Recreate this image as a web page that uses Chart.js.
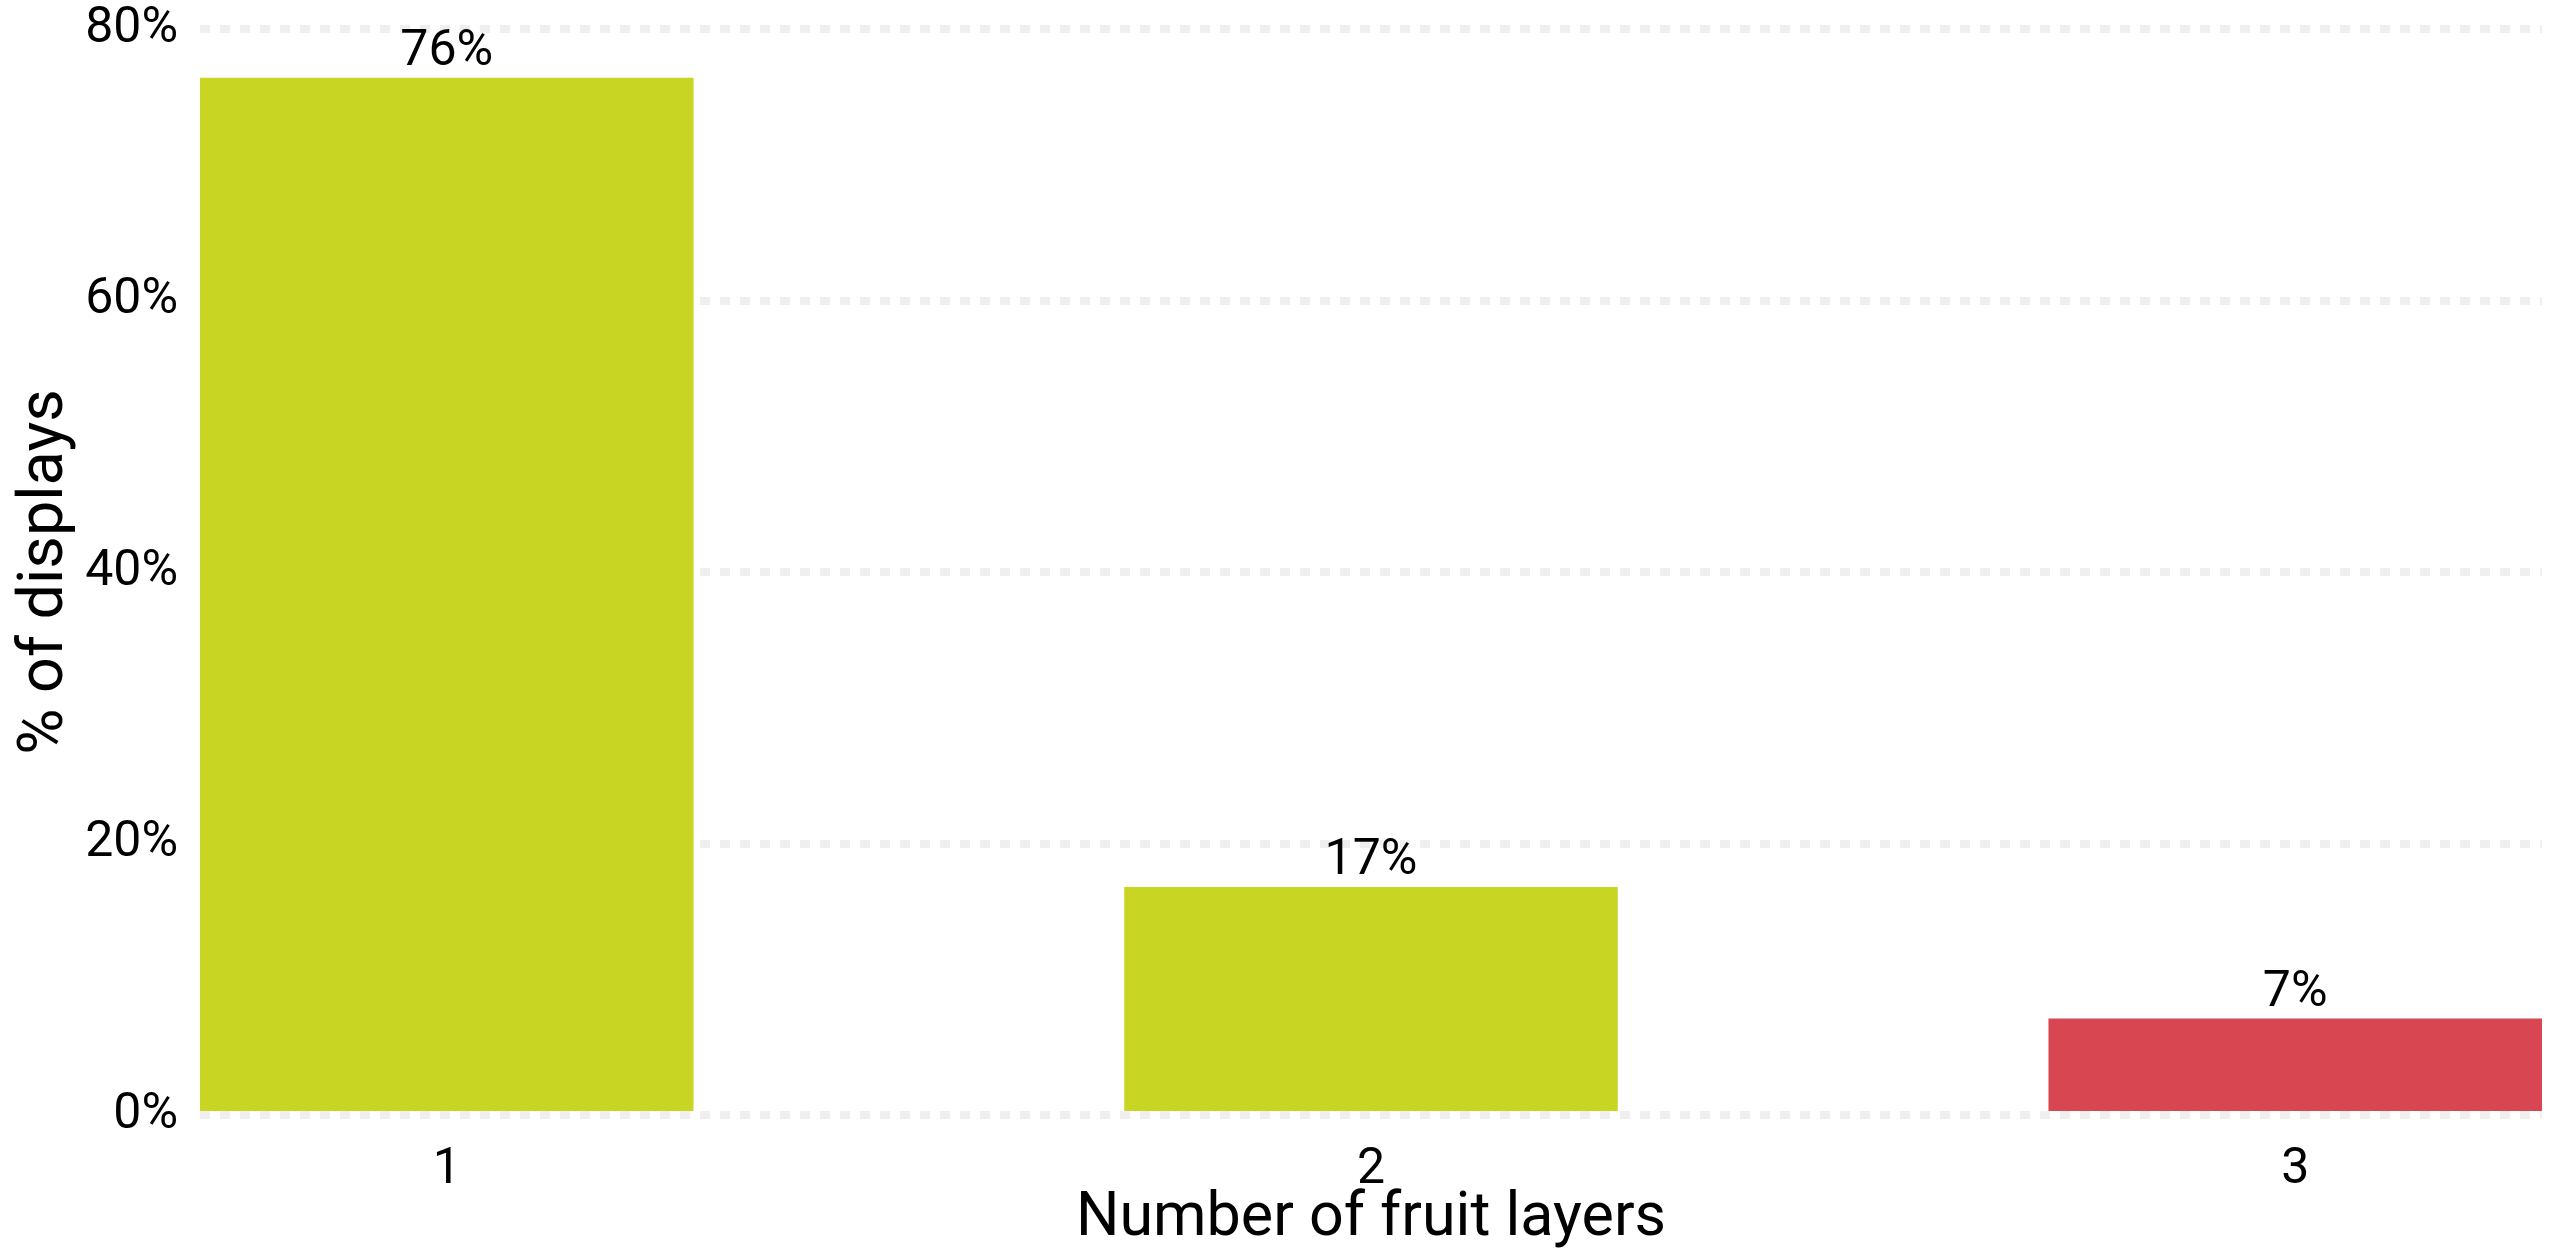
<!DOCTYPE html>
<html lang="en">
<head>
  <meta charset="UTF-8">
  <title>Fruit layers</title>
  <style>
    html, body { margin: 0; padding: 0; background: #fff; }
    #wrap { width: 2552px; height: 1256px; }
  </style>
</head>
<body>
  <div id="wrap"><canvas id="chart" width="2552" height="1256"></canvas></div>
  <script src="https://cdn.jsdelivr.net/npm/chart.js"></script>
  <script>
    // data
    const categories = ['1', '2', '3'];
    const shares = [76.4, 16.8, 7.1];
    const labels = ['76%', '17%', '7%'];
    const barColors = ['#c8d523', '#c8d523', '#d84652'];
    const yTicks = [0, 20, 40, 60, 80];

    const FONT = "Roboto, 'Liberation Sans', sans-serif";

    // labels above bars
    const barLabels = {
      id: 'barLabels',
      afterDatasetsDraw(chart) {
        const ctx = chart.ctx;
        const meta = chart.getDatasetMeta(0);
        ctx.save();
        ctx.font = '50px ' + FONT;
        ctx.fillStyle = '#000';
        ctx.textAlign = 'center';
        ctx.textBaseline = 'alphabetic';
        meta.data.forEach((bar, i) => {
          ctx.fillText(labels[i], bar.x, bar.y - 13);
        });
        ctx.restore();
      }
    };

    new Chart(document.getElementById('chart'), {
      type: 'bar',
      data: {
        datasets: [{
          data: categories.map((c, i) => ({ x: Number(c), y: shares[i] })),
          backgroundColor: barColors,
          borderWidth: 0,
          categoryPercentage: 1,
          barPercentage: 0.534
        }]
      },
      options: {
        responsive: false,
        animation: false,
        layout: { padding: { top: 29, right: 10, left: 0, bottom: 0 } },
        plugins: { legend: { display: false }, tooltip: { enabled: false } },
        scales: {
          x: {
            type: 'linear',
            offset: false,
            min: 0.733,
            max: 3.267,
            grid: { display: false, drawTicks: false },
            border: { display: false },
            afterFit: s => { s.height = 141; s.paddingLeft = 0; s.paddingRight = 0; },
            ticks: {
              includeBounds: false,
              stepSize: 1,
              padding: 25,
              color: '#000',
              font: { family: FONT, size: 50 },
              callback: v => categories[v - 1]
            },
            title: {
              display: true,
              text: 'Number of fruit layers',
              color: '#000',
              font: { family: FONT, size: 61 },
              padding: { top: 0, bottom: 0 }
            }
          },
          y: {
            min: 0,
            max: 80,
            afterFit: s => { s.width = 200; s.paddingTop = 0; s.paddingBottom = 0; },
            afterBuildTicks: s => { s.ticks = yTicks.map(v => ({ value: v })); },
            grid: {
              color: '#f1efed',
              lineWidth: 8,
              drawTicks: false
            },
            border: { display: false, dash: [10, 10] },
            ticks: {
              padding: 22,
              color: '#000',
              font: { family: FONT, size: 50, lineHeight: 1.16 },
              callback: v => v + '%'
            },
            title: {
              display: true,
              text: '% of displays',
              color: '#000',
              font: { family: FONT, size: 63 },
              padding: { top: 8, bottom: 0 }
            }
          }
        }
      },
      plugins: [barLabels]
    });
  </script>
</body>
</html>
